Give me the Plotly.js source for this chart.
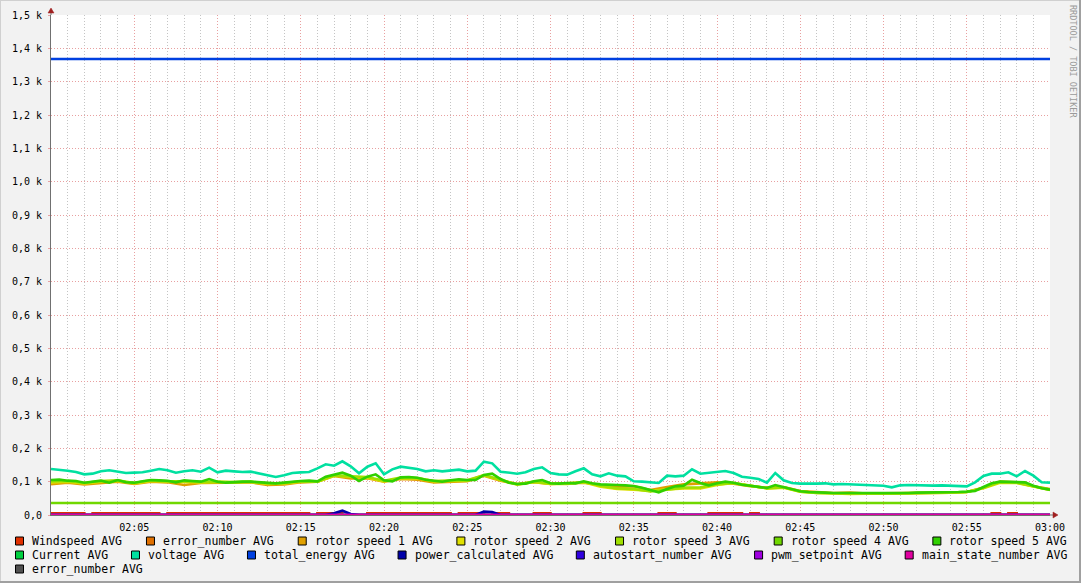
<!DOCTYPE html>
<html><head><meta charset="utf-8">
<script src="https://cdn.plot.ly/plotly-3.0.1.min.js"></script>
<style>html,body{margin:0;padding:0;background:#f2f2f2;overflow:hidden}#chart{width:1081px;height:583px}</style>
</head><body><div id="chart"></div>
<script>
// ---------------- DATA ----------------
const seriesNames = ["Windspeed AVG","error_number AVG","rotor speed 1 AVG","rotor speed 2 AVG","rotor speed 3 AVG","rotor speed 4 AVG","rotor speed 5 AVG","Current AVG","voltage AVG","total_energy AVG","power_calculated AVG","autostart_number AVG","pwm_setpoint AVG","main_state_number AVG","error_number AVG"];
const seriesColors = ["#E03000","#E07000","#E0A000","#E0E000","#A0E000","#70D800","#30D000","#00D040","#00E0A0","#0040E0","#0000A8","#3000E0","#A000E0","#E000A0","#505050"];
const yTickVals = [0,100,200,300,400,500,600,700,800,900,1000,1100,1200,1300,1400,1500];
const yTickText = ["0,0","0,1 k","0,2 k","0,3 k","0,4 k","0,5 k","0,6 k","0,7 k","0,8 k","0,9 k","1,0 k","1,1 k","1,2 k","1,3 k","1,4 k","1,5 k"];
const xTickText = ["02:05","02:10","02:15","02:20","02:25","02:30","02:35","02:40","02:45","02:50","02:55","03:00"];

// 30-second samples (121 points, 02:00:00 .. 03:00:00)
const windspeed = [5,5,5,5,0,5,5,5,5,5, 5,5,5,0,5,5,5,5,5,5, 5,5,5,5,5,5,5,5,5,5, 5,0,5,5,5,0,0,0,5,5,
  5,5,5,5,5,5,5,5,0,5, 5,5,0,5,5,0,0,0,5,5, 0,0,0,0,5,5,0,0,0,0, 0,0,0,5,5,0,0,0,0,5,
  5,5,5,0,5,0,0,0,0,0, 0,0,0,0,0,0,0,0,0,0, 0,0,0,0,0,0,0,0,0,0, 0,0,0,5,0,5,0,0,0,0, 0];
const voltage = [138,136,133,129,122,124,131,134,130,126, 127,128,133,138,134,127,131,134,130,142,
  128,133,131,129,130,124,118,114,119,126, 128,129,140,152,148,161,146,125,145,155,
  122,137,145,141,138,131,134,131,133,136, 131,133,160,155,130,126,124,128,138,143,
  126,122,121,131,140,122,116,125,118,116, 101,100,98,96,118,116,118,137,124,126,
  129,132,126,115,112,108,97,126,104,96, 94,93,94,95,92,93,92,91,92,90,
  88,83,89,90,89,90,88,89,88,86, 86,98,117,124,124,128,116,132,118,98, 97];
const rotorSpeed5 = [105,106,103,102,97,101,103,97,105,98, 97,101,105,104,103,98,104,102,100,108,
  100,97,99,100,100,98,96,95,97,100, 102,103,101,115,120,127,118,102,115,122,
  104,101,113,114,112,106,103,100,104,107, 105,105,120,124,108,97,93,94,101,105,
  95,94,96,95,101,95,92,90,90,89, 87,82,74,68,78,86,88,106,96,89,
  95,100,97,91,88,84,81,90,84,76, 71,69,67,67,66,66,65,65,66,66,
  65,64,65,66,67,67,67,68,68,69, 70,72,84,95,100,99,98,98,88,80, 76];
const powerCalculated = [0,0,0,0,0,0,0,0,0,0, 0,0,0,0,0,0,0,0,0,0, 0,0,0,0,0,0,0,0,0,0, 0,0,0,0,5,13,3,0,0,0,
  0,0,0,0,0,0,0,0,0,0, 0,0,10,9,0,0,0,0,0,0, 0,0,0,0,0,0,0,0,0,0, 0,0,0,0,0,0,0,0,0,0,
  0,0,0,0,0,0,0,0,0,0, 0,0,0,0,0,0,0,0,0,0, 0,0,0,0,0,0,0,0,0,0, 0,0,0,0,0,0,0,0,0,0, 0];

// 1-minute samples (61 points)
const rotorSpeed1 = [92,97,92,95,100,93,100,98,90,96, 96,97,98,90,92,98,100,117,110,110,
  100,108,106,98,100,101,118,103,93,98, 93,94,97,90,85,86,75,84,92,95,
  98,94,86,82,84,72,68,66,67,64, 65,65,66,67,67,69,82,100,98,86, 78];
const rotorSpeed2 = [98,100,95,100,102,95,102,100,99,98, 99,98,99,93,95,100,100,118,114,112,
  101,110,110,101,102,103,119,105,91,99, 93,93,98,85,78,76,72,77,80,80,
  90,96,87,80,82,70,66,64,63,64, 64,64,66,66,67,69,80,97,96,85, 75];
const rotorSpeed3 = [101,102,96,102,104,96,104,101,101,99, 100,98,100,95,96,101,100,119,116,114,
  103,112,111,102,103,104,120,106,92,100, 94,95,99,88,80,78,71,76,82,83,
  92,96,87,80,83,70,66,65,64,65, 64,65,66,66,68,69,82,99,97,86, 76];

// flat series (start / end of the hour)
const rotorSpeed4 = [36,36];
const totalEnergy = [1368,1368];
const errorNumber = [0,0];
const current = [0,0];
const autostartNumber = [0,0];
const pwmSetpoint = [0,0];
const mainStateNumber = [0,0];
const errorNumber2 = [null,null];

// ---------------- BUILD ----------------
function ts(sec){
  const h = 2 + Math.floor(sec/3600), m = Math.floor((sec%3600)/60), s = sec%60;
  const p = n => String(n).padStart(2,'0');
  return '2024-01-01 ' + p(h) + ':' + p(m) + ':' + p(s);
}
function times(n, step){ const a=[]; for(let i=0;i<n;i++) a.push(ts(i*step)); return a; }
const t30 = times(121,30), t60 = times(61,60), tEnds = [ts(0), ts(3600)];

const seriesData = [
  [t30, windspeed, 'hv'], [tEnds, errorNumber], [t60, rotorSpeed1], [t60, rotorSpeed2], [t60, rotorSpeed3],
  [tEnds, rotorSpeed4], [t30, rotorSpeed5], [tEnds, current], [t30, voltage], [tEnds, totalEnergy],
  [t30, powerCalculated], [tEnds, autostartNumber], [tEnds, pwmSetpoint], [tEnds, mainStateNumber], [tEnds, errorNumber2]
];
const traces = seriesData.map((d,i)=>({
  type:'scatter', mode:'lines', x:d[0], y:d[1], name:seriesNames[i],
  line:{color:seriesColors[i], width:2.6, shape:d[2]||'linear'}, showlegend:false, hoverinfo:'skip'
}));

// pixel helpers for decorations
const W=1081,H=583,L=51,R=1050,T=15,B=515;
const px = v => (v-L)/(R-L);
const py = v => (B-v)/(B-T);

const shapes = [], annotations = [];
// frame
shapes.push({type:'line',xref:'paper',yref:'paper',x0:px(0),x1:px(W),y0:py(0.5),y1:py(0.5),line:{color:'#D0D0D0',width:1}});
shapes.push({type:'line',xref:'paper',yref:'paper',x0:px(0.5),x1:px(0.5),y0:py(0),y1:py(H),line:{color:'#D0D0D0',width:1}});
shapes.push({type:'line',xref:'paper',yref:'paper',x0:px(0),x1:px(W),y0:py(H-1),y1:py(H-1),line:{color:'#A0A0A0',width:2}});
shapes.push({type:'line',xref:'paper',yref:'paper',x0:px(W-1),x1:px(W-1),y0:py(0),y1:py(H),line:{color:'#A0A0A0',width:2}});
// axis extensions + arrows
shapes.push({type:'line',xref:'paper',yref:'paper',x0:px(51),x1:px(51),y0:py(15),y1:py(11),line:{color:'#707070',width:1}});
shapes.push({type:'line',xref:'paper',yref:'paper',x0:px(1050),x1:px(1053),y0:py(515),y1:py(515),line:{color:'#707070',width:1}});
shapes.push({type:'path',xref:'paper',yref:'paper',path:`M ${px(48)},${py(13)} L ${px(54)},${py(13)} L ${px(51)},${py(8)} Z`,fillcolor:'#A02020',line:{color:'#A02020',width:0.5}});
shapes.push({type:'path',xref:'paper',yref:'paper',path:`M ${px(1053)},${py(512)} L ${px(1053)},${py(518)} L ${px(1058)},${py(515)} Z`,fillcolor:'#A02020',line:{color:'#A02020',width:0.5}});

// legend (justified rows like rrdtool)
const rows = [[0,1,2,3,4,5,6],[7,8,9,10,11,12,13],[14]];
const rowY = [541,555,569];
const charW = 6.92, boxW = 8, boxGap = 7, leftX = 15, rightX = 1065;
rows.forEach((row,ri)=>{
  const widths = row.map(i=>boxW+boxGap+seriesNames[i].length*charW);
  const total = widths.reduce((a,b)=>a+b,0);
  const gap = (ri<rows.length-1 && row.length>1) ? (rightX-leftX-total)/(row.length-1) : 25;
  let x = leftX;
  row.forEach((i,k)=>{
    const yc = rowY[ri];
    shapes.push({type:'rect',xref:'paper',yref:'paper',x0:px(x+0.5),x1:px(x+boxW+0.5),y0:py(yc-4),y1:py(yc+4),
      fillcolor:seriesColors[i],line:{color:'#000000',width:1}});
    annotations.push({xref:'paper',yref:'paper',x:px(x+boxW+boxGap),y:py(yc),xanchor:'left',yanchor:'middle',
      text:seriesNames[i],showarrow:false,font:{family:'DejaVu Sans Mono',size:11.5,color:'#000000'}});
    x += widths[k]+gap;
  });
});
// watermark
annotations.push({xref:'paper',yref:'paper',x:px(1073),y:py(61),text:'RRDTOOL / TOBI OETIKER',textangle:90,
  showarrow:false,xanchor:'center',yanchor:'middle',font:{family:'DejaVu Sans Mono',size:8.5,color:'#9A9A9A'}});

const xTickVals = xTickText.map(s=>'2024-01-01 '+s+':00');

const layout = {
  width:W,height:H,margin:{l:L,r:W-R,t:T,b:H-B,pad:0},
  paper_bgcolor:'#F2F2F2',plot_bgcolor:'#FFFFFF',
  font:{family:'DejaVu Sans Mono',size:10,color:'#000000'},
  showlegend:false,
  xaxis:{type:'date',range:[ts(0),ts(3600)],tickmode:'array',tickvals:xTickVals,ticktext:xTickText,
    showgrid:true,gridcolor:'#E8A0A0',griddash:'1px,2px',gridwidth:1,
    minor:{tick0:ts(0),dtick:60000,showgrid:true,gridcolor:'#C4C4C4',griddash:'1px,2px',gridwidth:1},
    showline:true,linecolor:'#707070',linewidth:1,ticks:'',ticklabelstandoff:3,zeroline:false,fixedrange:true,
    tickfont:{family:'DejaVu Sans Mono',size:10,color:'#000'}},
  yaxis:{range:[0,1500],tickmode:'array',tickvals:yTickVals,ticktext:yTickText,
    showgrid:true,gridcolor:'#E8A0A0',griddash:'1px,2px',gridwidth:1,
    showline:true,linecolor:'#707070',linewidth:1,ticks:'outside',ticklen:2,tickcolor:'#E8A0A0',
    ticklabelstandoff:4,zeroline:false,fixedrange:true,
    tickfont:{family:'DejaVu Sans Mono',size:10,color:'#000'}},
  shapes:shapes,annotations:annotations
};
Plotly.newPlot('chart',traces,layout,{staticPlot:true,displayModeBar:false});
</script></body></html>
